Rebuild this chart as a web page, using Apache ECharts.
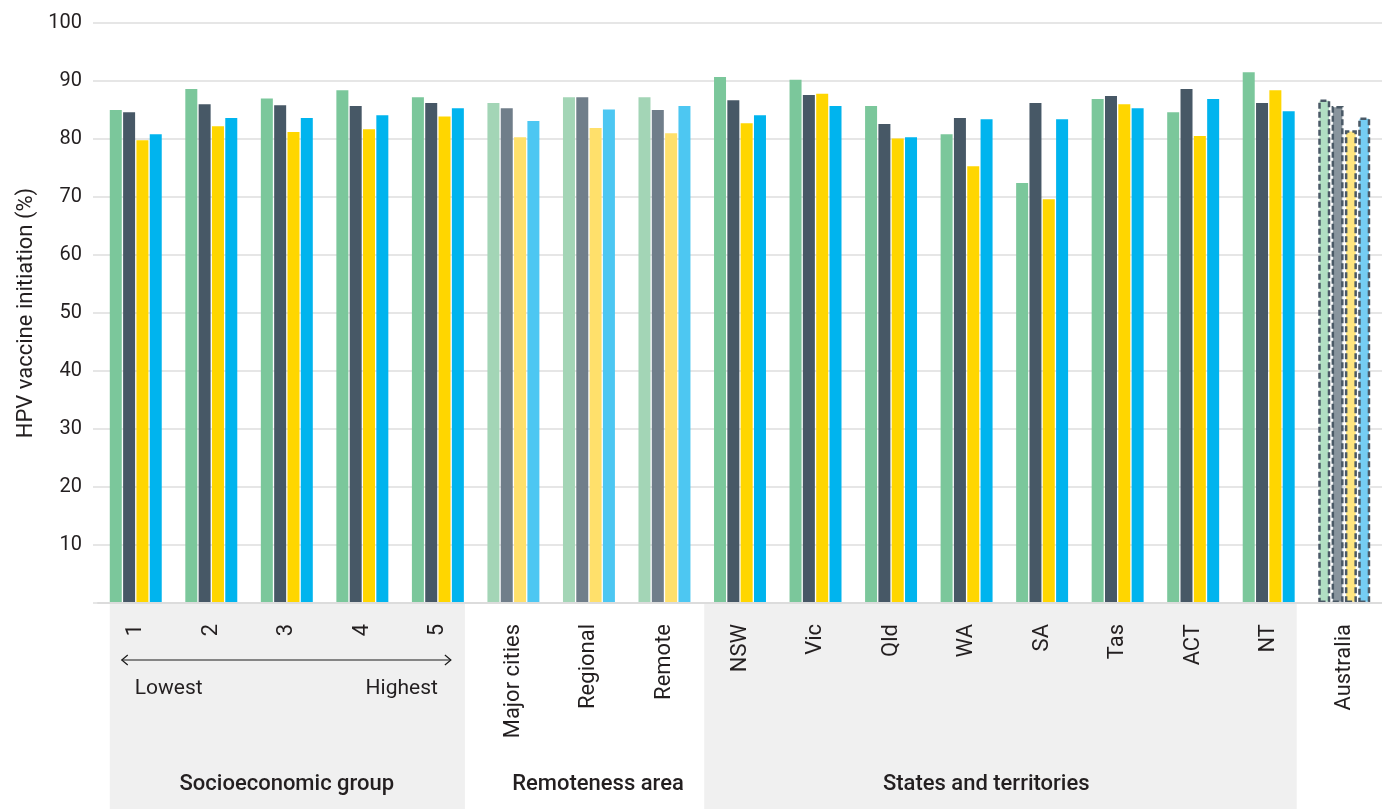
<!DOCTYPE html>
<html>
<head>
<meta charset="utf-8">
<script src="https://cdn.jsdelivr.net/npm/echarts@6/dist/echarts.min.js"></script>
<style>
  html, body { margin: 0; padding: 0; background: #fff; }
  #chart { width: 1382px; height: 809px; }
</style>
</head>
<body>
<div id="chart"></div>
<script>
// HPV vaccine initiation (%) by socioeconomic group, remoteness area and state
const categories = ['1', '2', '3', '4', '5', 'Major cities', 'Regional', 'Remote',
  'NSW', 'Vic', 'Qld', 'WA', 'SA', 'Tas', 'ACT', 'NT', 'Australia'];

const greenValues  = [85.0, 88.6, 87.0, 88.4, 87.2, 86.2, 87.2, 87.2, 90.7, 90.2, 85.7, 80.8, 72.4, 86.9, 84.6, 91.5, 86.8];
const darkValues   = [84.6, 86.0, 85.8, 85.7, 86.2, 85.3, 87.2, 85.0, 86.7, 87.6, 82.6, 83.6, 86.2, 87.4, 88.6, 86.2, 85.7];
const yellowValues = [79.8, 82.2, 81.2, 81.7, 83.9, 80.3, 81.9, 81.0, 82.7, 87.8, 80.1, 75.3, 69.6, 86.0, 80.5, 88.4, 81.5];
const blueValues   = [80.8, 83.6, 83.6, 84.1, 85.3, 83.1, 85.1, 85.7, 84.1, 85.7, 80.3, 83.4, 83.4, 85.3, 86.9, 84.8, 83.7];

const yMin = 0, yMax = 100, yStep = 10;
const yTitle = 'HPV vaccine initiation (%)';
const groupTitles = ['Socioeconomic group', 'Remoteness area', 'States and territories'];
const sesEnds = ['Lowest', 'Highest'];

// Colour sets: full, faded (remoteness) and pale with dashed outline (national)
const fullColours   = ['#7BC79B', '#475866', '#FFD600', '#00B4EE'];
const fadedColours  = ['#A3D5B6', '#707E8A', '#FFE06B', '#4DC7F2'];
const paleColours   = ['#B1DFC3', '#88949D', '#FFE680', '#75CDF3'];
const remotenessIdx = [5, 6, 7];
const nationalIdx = 16;

const FONT = 'Roboto, "Noto Sans", sans-serif';
const TEXT = '#231F20';

function buildData(values, s) {
  return values.map((v, i) => {
    if (i === nationalIdx) {
      return { value: v, itemStyle: { color: paleColours[s], borderColor: '#4A5966', borderWidth: 2.5, borderType: [6, 3] } };
    }
    if (remotenessIdx.includes(i)) {
      return { value: v, itemStyle: { color: fadedColours[s] } };
    }
    return { value: v, itemStyle: { color: fullColours[s] } };
  });
}

const seriesValues = [greenValues, darkValues, yellowValues, blueValues];

const chart = echarts.init(document.getElementById('chart'), null, { renderer: 'canvas' });

chart.setOption({
  animation: false,
  backgroundColor: '#fff',
  grid: { left: 98, top: 23, width: 1291, bottom: 206 },
  xAxis: {
    type: 'category',
    data: categories,
    axisLine: { show: true, lineStyle: { color: '#DCDCDC', width: 2 } },
    axisTick: { show: false },
    axisLabel: {
      rotate: 90, margin: 21, color: TEXT, fontFamily: FONT, fontSize: 22, interval: 0
    },
    z: 5
  },
  yAxis: {
    type: 'value',
    min: yMin, max: yMax, interval: yStep,
    name: yTitle,
    nameLocation: 'middle',
    nameRotate: 90,
    nameGap: 57,
    nameTextStyle: { color: TEXT, fontFamily: FONT, fontSize: 22 },
    axisLine: { show: false },
    axisTick: { show: true, length: 5, lineStyle: { color: '#E6E6E6', width: 2 } },
    axisLabel: {
      margin: 16, color: TEXT, fontFamily: FONT, fontSize: 20,
      formatter: v => (v === 0 ? '' : String(v))
    },
    splitLine: { lineStyle: { color: '#E6E6E6', width: 2 } }
  },
  series: seriesValues.map((vals, s) => ({
    type: 'bar',
    name: 'series' + (s + 1),
    data: buildData(vals, s),
    barWidth: 12,
    barGap: '11%'
  }))
});

// Decorations below the axis, placed from the category axis scale
function drawDecor() {
  const c = i => chart.convertToPixel({ xAxisIndex: 0 }, i);
  const c0 = c(0);
  const band = c(1) - c(0);
  const px = f => c0 + f * band;
  const axisY = chart.convertToPixel({ yAxisIndex: 0 }, 0);
  const h = 809 - axisY;

  const sesL = c(0) - 26, sesR = c(4) + 27;
  const stL = px(7.5) + 2, stR = c(15) + 28;
  const arrowY = axisY + 57;
  const arrowL = c(0) - 14, arrowR = c(4) + 13;

  const lineStyle = { stroke: '#1A1A1A', lineWidth: 1.2, fill: null };
  const labelFont = '21px ' + FONT;
  const titleFont = '500 22px ' + FONT;

  chart.setOption({
    graphic: [
      { type: 'rect', z: -10, silent: true, shape: { x: sesL, y: axisY + 1, width: sesR - sesL, height: h }, style: { fill: '#F0F0F0' } },
      { type: 'rect', z: -10, silent: true, shape: { x: stL, y: axisY + 1, width: stR - stL, height: h }, style: { fill: '#F0F0F0' } },
      { type: 'line', silent: true, shape: { x1: arrowL, y1: arrowY, x2: arrowR, y2: arrowY }, style: lineStyle },
      { type: 'polyline', silent: true, shape: { points: [[arrowL + 6, arrowY - 5], [arrowL, arrowY], [arrowL + 6, arrowY + 5]] }, style: lineStyle },
      { type: 'polyline', silent: true, shape: { points: [[arrowR - 6, arrowY - 5], [arrowR, arrowY], [arrowR - 6, arrowY + 5]] }, style: lineStyle },
      { type: 'text', silent: true, x: c(0) - 1, y: axisY + 86,
        style: { text: sesEnds[0], fill: TEXT, font: labelFont, align: 'left', verticalAlign: 'middle' } },
      { type: 'text', silent: true, x: c(4), y: axisY + 86,
        style: { text: sesEnds[1], fill: TEXT, font: labelFont, align: 'right', verticalAlign: 'middle' } },
      { type: 'text', silent: true, x: px(2), y: axisY + 181,
        style: { text: groupTitles[0], fill: TEXT, font: titleFont, align: 'center', verticalAlign: 'middle' } },
      { type: 'text', silent: true, x: px(6.12), y: axisY + 181,
        style: { text: groupTitles[1], fill: TEXT, font: titleFont, align: 'center', verticalAlign: 'middle' } },
      { type: 'text', silent: true, x: px(11.26), y: axisY + 181,
        style: { text: groupTitles[2], fill: TEXT, font: titleFont, align: 'center', verticalAlign: 'middle' } }
    ]
  });
}
drawDecor();
</script>
</body>
</html>
